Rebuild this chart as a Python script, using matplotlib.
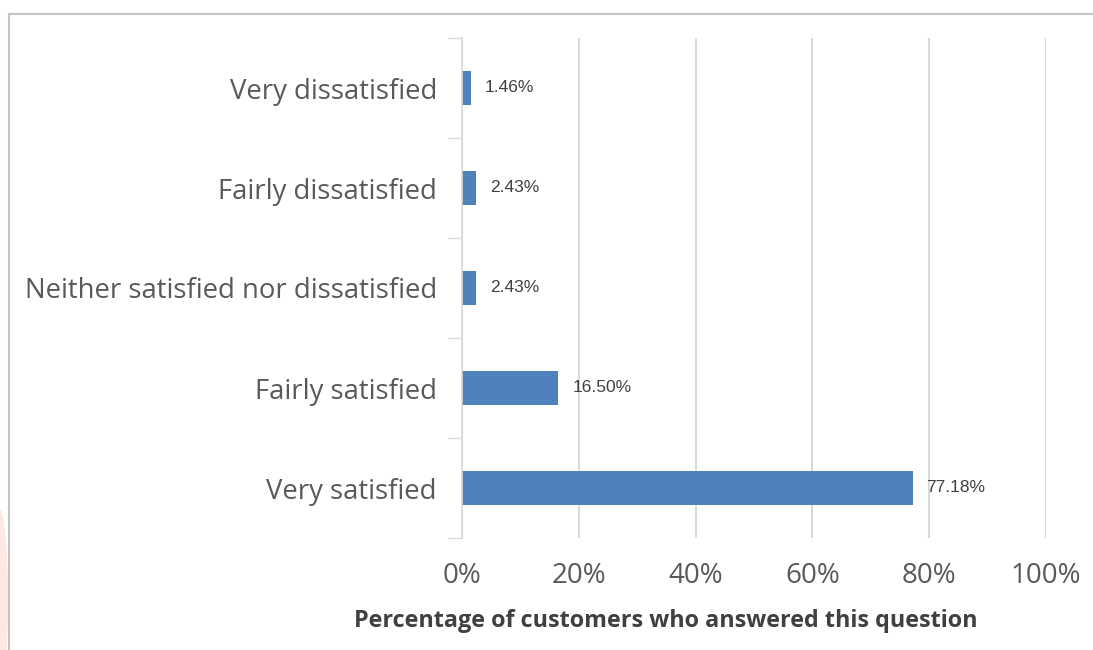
import matplotlib
matplotlib.use("Agg")
import matplotlib.pyplot as plt
from matplotlib.lines import Line2D
from matplotlib.patches import Ellipse
import numpy as np

categories = ["Very satisfied", "Fairly satisfied", "Neither satisfied nor dissatisfied",
              "Fairly dissatisfied", "Very dissatisfied"]
values = [77.18, 16.50, 2.43, 2.43, 1.46]
xticks = [0, 20, 40, 60, 80, 100]
xtick_labels = ["0%", "20%", "40%", "60%", "80%", "100%"]
xlabel = "Percentage of customers who answered this question"

W, H = 1093, 650
fig = plt.figure(figsize=(W / 100, H / 100), dpi=100)
fig.patch.set_facecolor("white")

# faint decorative shape at the left edge, outside the frame
fig.patches.append(Ellipse((0 / W, 1 - 600 / H), 16 / W, 180 / H,
                           transform=fig.transFigure, facecolor="#fde9e2",
                           edgecolor="none", zorder=0))

# outer frame (top and left edges visible)
fig.add_artist(Line2D([9 / W, 1.0], [1 - 14 / H, 1 - 14 / H], transform=fig.transFigure,
                      color="#c4c4c4", lw=1.5))
fig.add_artist(Line2D([9 / W, 9 / W], [1 - 14 / H, 0], transform=fig.transFigure,
                      color="#c4c4c4", lw=1.5))

ax = fig.add_axes([462 / W, 1 - 538 / H, (1046 - 462) / W, (538 - 38) / H])
y = np.arange(len(categories))
ax.barh(y, values, height=0.34, color="#4f81bd", zorder=3)

ax.set_xlim(0, 100)
ax.set_ylim(-0.5, len(categories) - 0.5)
ax.set_xticks(xticks)
ax.set_xticklabels(xtick_labels, fontsize=20, color="#595959", family="Open Sans")
ax.set_yticks(y)
ax.set_yticklabels(categories, fontsize=19.8, color="#595959", family="Open Sans")
ax.set_yticks(np.arange(-0.5, len(categories), 1.0), minor=True)

ax.tick_params(axis="x", length=0, pad=17)
ax.tick_params(axis="y", which="major", length=0, pad=18)
ax.tick_params(axis="y", which="minor", length=10, width=1, color="#d9d9d9")

ax.grid(axis="x", color="#d9d9d9", lw=1.5, zorder=0)
for s in ["top", "right", "bottom"]:
    ax.spines[s].set_visible(False)
ax.spines["left"].set_color("#d9d9d9")
ax.spines["left"].set_linewidth(1.2)
ax.spines["left"].set_zorder(4)

for yi, v in zip(y, values):
    ax.annotate(f"{v:.2f}%", (v, yi), xytext=(10, 0), textcoords="offset points",
                va="center", ha="left", fontsize=12.5, color="#404040",
                family="Liberation Sans")

fig.text(666 / W, 1 - 621 / H, xlabel, ha="center", va="center", fontsize=16.8,
         fontweight="bold", color="#404040", family="Open Sans")

fig.savefig("out.png", dpi=100)
